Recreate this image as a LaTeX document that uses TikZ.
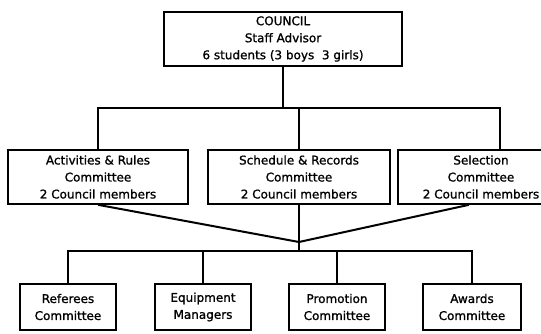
\documentclass[tikz,border=0pt]{standalone}
\usepackage{fontspec}
\newfontfamily\chartfont{DejaVu Sans}[FakeBold=1.2]
\usetikzlibrary{calc}

\tikzset{
    unit/.style={draw, line width=1.6pt, align=center, inner sep=0pt,
        font=\chartfont\fontsize{12}{17}\selectfont},
    bigunit/.style={unit, minimum height=54pt},
    smallunit/.style={unit, minimum width=96pt, minimum height=46pt},
    link/.style={line width=2pt}
}

\begin{document}
\begin{tikzpicture}[x=1pt,y=-1pt]
\useasboundingbox (0,0) rectangle (541,333);

% Council
\node[bigunit, minimum width=238pt] (council) at (283,39)
    {COUNCIL\\Staff Advisor\\6 students (3 boys\ \ 3 girls)};

% Committees with council members
\node[bigunit, minimum width=180pt] (rules) at (98,177)
    {Activities \& Rules\\Committee\\2 Council members};
\node[bigunit, minimum width=182pt] (records) at (299,177)
    {Schedule \& Records\\Committee\\2 Council members};
\node[bigunit, minimum width=166pt] (selection) at (481,177)
    {Selection\\Committee\\2 Council members};

% Other committees
\node[smallunit] (referees) at (68,307) {Referees\\Committee};
\node[smallunit] (equipment) at (203,307) {Equipment\\Managers};
\node[smallunit] (promotion) at (337,307) {Promotion\\Committee};
\node[smallunit, minimum width=98pt] (awards) at (472,307) {Awards\\Committee};

% Bus lines
\coordinate (bus1) at (283,108);
\coordinate (bus2) at (299,251);
\coordinate (join) at (299,242);
\coordinate (seldrop) at (500,151);

% Council to committees
\draw[link] (council.south) -- (bus1);
\draw[link] (rules.north) |- (seldrop |- bus1) -- (seldrop);
\draw[link] (records.north) -- (records.north |- bus1);

% Committees to the others
\draw[link] (rules.south) -- (join) -- ([xshift=-12pt]selection.south);
\draw[link] (records.south) -- (bus2);
\draw[link] (referees.north) |- (awards.north |- bus2) -- (awards.north);
\draw[link] (equipment.north) -- (equipment.north |- bus2);
\draw[link] (promotion.north) -- (promotion.north |- bus2);

\end{tikzpicture}
\end{document}
